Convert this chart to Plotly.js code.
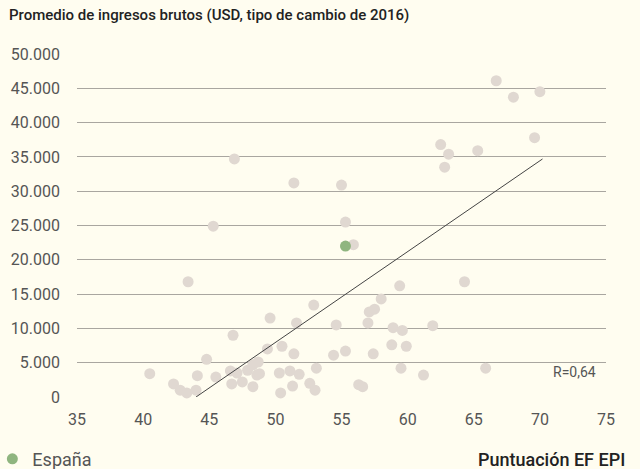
<!DOCTYPE html>
<html>
<head>
<meta charset="utf-8">
<script src="https://cdn.plot.ly/plotly-3.0.1.min.js"></script>
<style>html,body{margin:0;padding:0;background:#fffdf0;}#chart{width:640px;height:469px;}</style>
</head>
<body>
<div id="chart"></div>
<script>
// EF EPI score (x) and average gross income in USD (y)
const countryScore = [40.5,42.3,42.8,43.3,43.4,44.0,44.1,44.8,45.3,45.5,46.6,46.7,46.8,46.9,47.1,47.5,47.9,48.3,48.3,48.6,48.7,48.8,49.4,49.6,50.3,50.4,50.5,51.1,51.3,51.4,51.4,51.6,51.8,52.6,52.9,53.0,53.1,54.4,54.6,55.0,55.3,55.3,55.9,56.3,56.6,57.0,57.1,57.4,57.5,58.0,58.8,58.9,59.4,59.5,59.6,59.9,61.2,61.9,62.5,62.8,63.1,64.3,65.3,65.9,66.7,68.0,69.6,70.0];
const countryIncome = [3400,1900,1000,600,16800,1000,3100,5500,24900,2900,3800,1900,9000,34700,3500,2200,3900,4700,1500,3200,5100,3400,7000,11500,3500,600,7400,3800,1600,6300,31200,10800,3300,2000,13400,1000,4200,6100,10500,30900,25500,6700,22200,1800,1500,10800,12400,6300,12800,14300,7600,10100,16200,4200,9700,7400,3200,10400,36800,33500,35400,16800,35900,4200,46100,43700,37800,44500];
const spainScore = [55.3];
const spainIncome = [22000];
const spainLabel = 'España';
const trendScore = [44.0, 70.2];
const trendIncome = [0, 34700];
const xTicks = [35,40,45,50,55,60,65,70,75];
const yTicks = [0,5000,10000,15000,20000,25000,30000,35000,40000,45000,50000];
const yTickText = ['0','5.000','10.000','15.000','20.000','25.000','30.000','35.000','40.000','45.000','50.000'];

const traces = [
  {x: countryScore, y: countryIncome, type: 'scatter', mode: 'markers', showlegend: false, cliponaxis: false,
   marker: {size: 11, color: '#e0d8d1'}, hoverinfo: 'x+y'},
  {x: trendScore, y: trendIncome, type: 'scatter', mode: 'lines', showlegend: false, cliponaxis: false,
   line: {color: '#444', width: 1}, hoverinfo: 'skip'},
  {x: spainScore, y: spainIncome, type: 'scatter', mode: 'markers', name: spainLabel, cliponaxis: false,
   marker: {size: 11, color: '#8fb57f'}}
];

const layout = {
  width: 640, height: 469,
  paper_bgcolor: '#fffdf0', plot_bgcolor: '#fffdf0',
  margin: {l: 77, r: 34, t: 54, b: 72, autoexpand: false},
  font: {family: 'Roboto, sans-serif', color: '#555'},
  title: {text: 'Promedio de ingresos brutos (USD, tipo de cambio de 2016)', xref: 'container', yref: 'container',
          x: 9/640, xanchor: 'left', y: 1 - 9/469, yanchor: 'top',
          font: {family: 'Roboto, sans-serif', size: 15, weight: 500, color: '#222'}},
  xaxis: {range: [35, 75], tickvals: xTicks, showgrid: false, zeroline: false, showline: false,
          ticks: '', ticklabelstandoff: 11, tickfont: {size: 16, color: '#555'}, fixedrange: true, automargin: false},
  yaxis: {range: [0, 50000], tickvals: yTicks, ticktext: yTickText, showgrid: true, gridcolor: '#a9a6a0', gridwidth: 1,
          zeroline: false, showline: false, ticks: '', ticklabelstandoff: 16, tickfont: {size: 16, color: '#555'}, fixedrange: true, automargin: false},
  showlegend: true,
  legend: {x: -0.16, xanchor: 'left', y: -0.181, yanchor: 'middle', bgcolor: 'rgba(0,0,0,0)',
           font: {size: 18, color: '#555'}, itemwidth: 30, tracegroupgap: 0},
  annotations: [
    {text: 'R=0,64', xref: 'paper', yref: 'y', x: 0.985, y: 3600, xanchor: 'right', yanchor: 'middle', showarrow: false,
     font: {size: 14, color: '#555'}},
    {text: 'Puntuación EF EPI', xref: 'paper', yref: 'paper', x: 1.04, y: -0.181, xanchor: 'right', yanchor: 'middle', showarrow: false,
     font: {size: 18, weight: 500, color: '#222'}}
  ]
};
Plotly.newPlot('chart', traces, layout, {displayModeBar: false, staticPlot: true});
</script>
</body>
</html>
